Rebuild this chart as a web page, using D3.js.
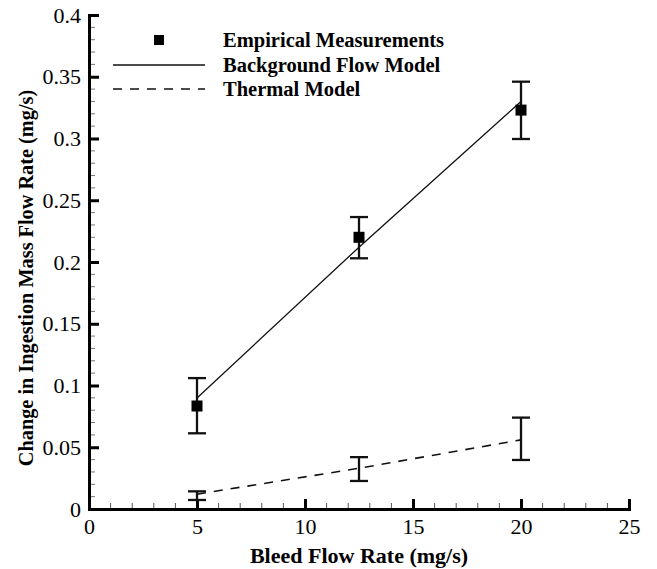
<!DOCTYPE html>
<html>
<head>
<meta charset="utf-8">
<script src="https://cdn.jsdelivr.net/npm/d3@7"></script>
<style>
  body { margin: 0; background: #fff; }
  svg text { font-family: "Liberation Serif", "Times New Roman", serif; fill: #000; }
</style>
</head>
<body>
<div id="chart"></div>
<script>
// measured points with error bars
const empX = [5, 12.5, 20];
const empY = [0.0834, 0.220, 0.323];
const empLo = [0.0613, 0.203, 0.2996];
const empHi = [0.106, 0.2364, 0.346];

// background flow model (solid)
const bgX = [5, 12.5, 20];
const bgY = [0.0899, 0.212, 0.330];

// thermal model (dashed) with its error bars
const thX = [5, 12.5, 20];
const thY = [0.012, 0.033, 0.056];
const thLo = [0.0073, 0.0227, 0.0397];
const thHi = [0.0143, 0.042, 0.074];

const xTicks = [0, 5, 10, 15, 20, 25];
const yTicks = [0, 0.05, 0.1, 0.15, 0.2, 0.25, 0.3, 0.35, 0.4];
const legendLabels = ['Empirical Measurements', 'Background Flow Model', 'Thermal Model'];

const W = 657, H = 569;
const margin = { top: 15, right: 28, bottom: 60, left: 89 };
const width = W - margin.left - margin.right;
const height = H - margin.top - margin.bottom;

const svg = d3.select('#chart').append('svg')
  .attr('width', W).attr('height', H);
const g = svg.append('g').attr('transform', `translate(${margin.left},${margin.top})`);

const x = d3.scaleLinear().domain([0, 25]).range([0, width]);
const y = d3.scaleLinear().domain([0, 0.4]).range([height, 0]);

// minor ticks first, so the axes sit on top
g.append('g').selectAll('line').data(d3.range(0, 25.01, 1).filter(v => v % 5 !== 0))
  .join('line')
  .attr('x1', d => x(d)).attr('x2', d => x(d))
  .attr('y1', height).attr('y2', height - 6)
  .attr('stroke', '#555').attr('stroke-width', 1);
g.append('g').selectAll('line').data(d3.range(0, 41, 1).filter(v => v % 5 !== 0).map(v => v / 100))
  .join('line')
  .attr('x1', 0).attr('x2', 6)
  .attr('y1', d => y(d)).attr('y2', d => y(d))
  .attr('stroke', '#777').attr('stroke-width', 1);

// axes, ticks pointing inward
const xAxis = g.append('g').attr('transform', `translate(0,${height})`)
  .call(d3.axisBottom(x).tickValues(xTicks).tickSize(-10).tickPadding(9).tickFormat(d3.format('d')));
const yAxis = g.append('g')
  .call(d3.axisLeft(y).tickValues(yTicks).tickSize(-10).tickPadding(8).tickFormat(d => d === 0 ? '0' : String(d)));

[xAxis, yAxis].forEach(a => {
  a.select('.domain').attr('stroke', '#000').attr('stroke-width', 3);
  a.selectAll('.tick line').attr('stroke', '#000').attr('stroke-width', 3);
  a.selectAll('.tick text')
    .attr('font-family', '"Liberation Serif", serif')
    .attr('font-size', 22).attr('fill', '#000');
});
xAxis.selectAll('.tick text').attr('dy', '0.71em');

// axis titles
svg.append('text')
  .attr('x', margin.left + width / 2).attr('y', 563)
  .attr('text-anchor', 'middle').attr('font-size', 22).attr('font-weight', 'bold')
  .text('Bleed Flow Rate (mg/s)');
svg.append('text')
  .attr('transform', `translate(33,${margin.top + 263}) rotate(-90)`)
  .attr('text-anchor', 'middle').attr('font-size', 20.3).attr('font-weight', 'bold')
  .text('Change in Ingestion Mass Flow Rate (mg/s)');

// model lines
const line = d3.line().x(d => x(d[0])).y(d => y(d[1]));
g.append('path')
  .datum(bgX.map((v, i) => [v, bgY[i]]))
  .attr('fill', 'none').attr('stroke', '#111').attr('stroke-width', 1.3)
  .attr('d', line);
g.append('path')
  .datum(thX.map((v, i) => [v, thY[i]]))
  .attr('fill', 'none').attr('stroke', '#111').attr('stroke-width', 1.6)
  .attr('stroke-dasharray', '9,8')
  .attr('d', line);

// error bars
function errorBars(xs, lo, hi) {
  const eb = g.append('g').attr('stroke', '#111').attr('stroke-width', 2.3);
  xs.forEach((v, i) => {
    const cx = x(v);
    eb.append('line').attr('x1', cx).attr('x2', cx).attr('y1', y(lo[i])).attr('y2', y(hi[i]));
    eb.append('line').attr('x1', cx - 9).attr('x2', cx + 9).attr('y1', y(lo[i])).attr('y2', y(lo[i]));
    eb.append('line').attr('x1', cx - 9).attr('x2', cx + 9).attr('y1', y(hi[i])).attr('y2', y(hi[i]));
  });
}
errorBars(empX, empLo, empHi);
errorBars(thX, thLo, thHi);

// measurement squares
g.append('g').selectAll('rect').data(empX.map((v, i) => [v, empY[i]]))
  .join('rect')
  .attr('x', d => x(d[0]) - 5.5).attr('y', d => y(d[1]) - 5.5)
  .attr('width', 11).attr('height', 11).attr('fill', '#000');

// legend
const leg = svg.append('g');
leg.append('rect').attr('x', 154).attr('y', 35).attr('width', 10).attr('height', 10).attr('fill', '#000');
leg.append('line').attr('x1', 113).attr('x2', 205).attr('y1', 65).attr('y2', 65)
  .attr('stroke', '#111').attr('stroke-width', 1.3);
leg.append('line').attr('x1', 113).attr('x2', 205).attr('y1', 89).attr('y2', 89)
  .attr('stroke', '#111').attr('stroke-width', 1.6).attr('stroke-dasharray', '9,8');
leg.selectAll('text').data(legendLabels).join('text')
  .attr('x', 223).attr('y', (d, i) => 47 + i * 24.5)
  .attr('font-size', 20.5).attr('font-weight', 'bold')
  .text(d => d);
</script>
</body>
</html>
